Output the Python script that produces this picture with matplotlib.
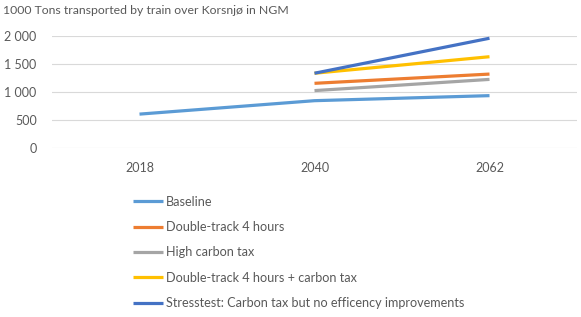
import matplotlib.pyplot as plt
from matplotlib.ticker import FuncFormatter

plt.rcParams['font.family'] = ['Lato', 'DejaVu Sans']

years = ['2018', '2040', '2062']
baseline = [605, 845, 935]
double_track = [None, 1155, 1320]
high_carbon = [None, 1025, 1225]
double_carbon = [None, 1335, 1630]
stresstest = [None, 1335, 1960]

series = [
    ('Baseline', baseline, '#5B9BD5'),
    ('Double-track 4 hours', double_track, '#ED7D31'),
    ('High carbon tax', high_carbon, '#A5A5A5'),
    ('Double-track 4 hours + carbon tax', double_carbon, '#FFC000'),
    ('Stresstest: Carbon tax but no efficency improvements', stresstest, '#4472C4'),
]

W, H = 581, 317
fig = plt.figure(figsize=(W / 100, H / 100), dpi=100)
ax = fig.add_axes([52 / W, 1 - 148 / H, (577 - 52) / W, (148 - 36) / H])

x = list(range(len(years)))
for name, vals, col in series:
    xs = [i for i, v in zip(x, vals) if v is not None]
    ys = [v for v in vals if v is not None]
    ax.plot(xs, ys, color=col, lw=2.3, solid_capstyle='butt', label=name)

ax.set_xlim(-0.5, 2.5)
ax.set_ylim(0, 2000)
ax.set_yticks([0, 500, 1000, 1500, 2000])
ax.yaxis.set_major_formatter(FuncFormatter(lambda v, p: f'{int(v):,}'.replace(',', ' ')))
ax.set_xticks(x)
ax.set_xticklabels(years)
ax.grid(axis='y', color='#d9d9d9', lw=0.8)
ax.set_axisbelow(True)
for s in ax.spines.values():
    s.set_visible(False)
ax.tick_params(length=0, labelsize=9, colors='#595959')
ax.tick_params(axis='y', pad=11)
ax.tick_params(axis='x', pad=10)

fig.text(3 / W, 1 - 11 / H, '1000 Tons transported by train over Korsnjø in NGM',
         fontsize=8.8, color='#595959', va='center', ha='left')

leg = fig.legend(loc='upper left', bbox_to_anchor=(128 / W, 1 - 190.5 / H), frameon=False,
                 fontsize=9.1, handlelength=2.4, handletextpad=0.2, labelspacing=1.06,
                 borderaxespad=0)
for t in leg.get_texts():
    t.set_color('#595959')

fig.savefig('out.png', dpi=100)
